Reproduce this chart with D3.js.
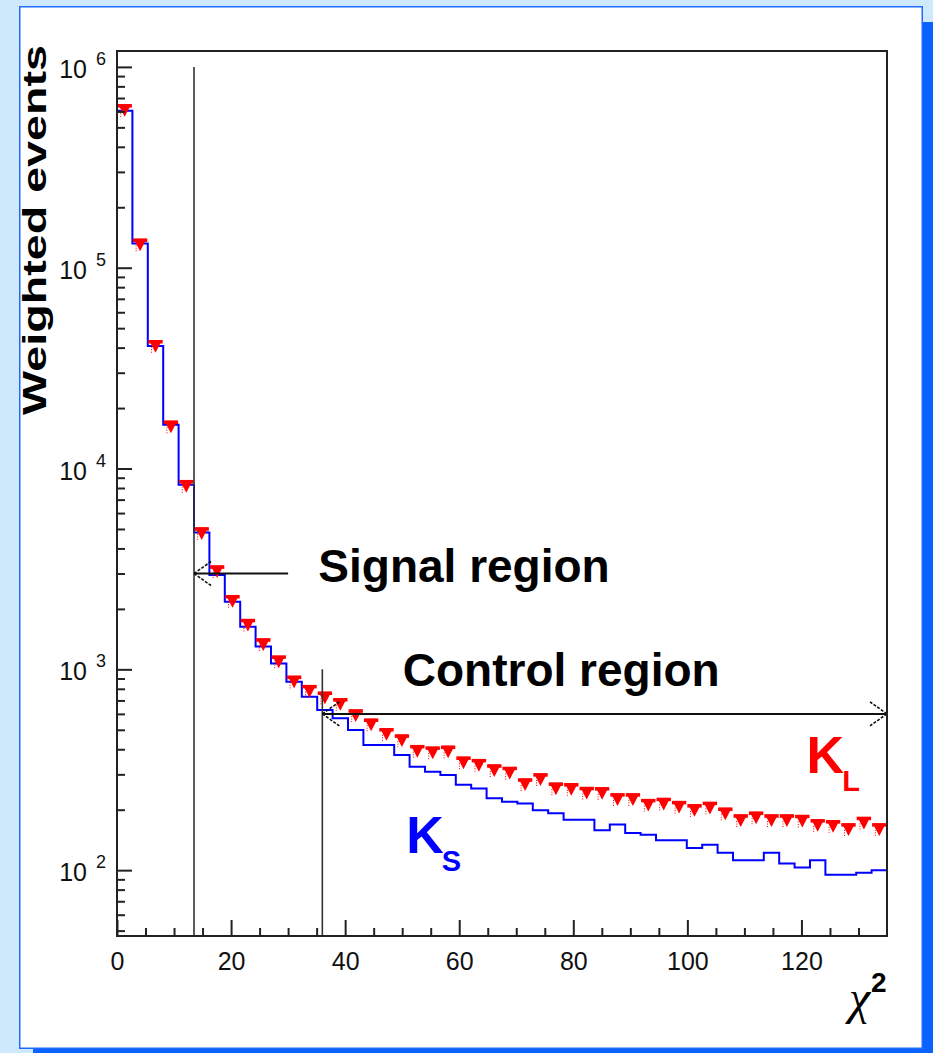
<!DOCTYPE html>
<html><head><meta charset="utf-8">
<script src="https://cdn.jsdelivr.net/npm/d3@7"></script>
<style>html,body{margin:0;padding:0;background:#cde9fb;} svg{display:block;}</style>
</head><body>
<svg id="c" width="933" height="1053"></svg>
<script>
// ---- data ----
const xRange = [0, 135];
const nBins = 50;
const yRange = [47, 1.2e6];
const ksValues = [605000,132000,40700,16500,8300,4800,2950,2170,1630,1300,
  1070,867,731,627,570,499,420,420,374,327,
  309,298,266,255,228,219,215,199,192,178,
  178,158,169,153,150,141,141,129,134,122,
  112,112,122,108,103,112,95,95,97,100];
const klValues = [640000,137000,42800,17000,8600,5000,3230,2300,1750,1400,
  1150,912,820,760,705,620,558,500,465,412,
  405,409,361,351,330,321,281,298,268,266,
  255,254,237,237,222,225,217,209,215,201,
  186,192,186,186,185,176,174,168,181,168];
const xMajorTicks = [0,20,40,60,80,100,120];
const xTickLabels = ["0","20","40","60","80","100","120"];
const yExponents = [2,3,4,5,6];
const signalCut = [13.5, 1e6];     // x, top value
const controlCut = [36, 1000];
const signalArrow = [30, 13.5, 3000];  // from x, to x, at value
const controlArrow = [36, 135, 600];
const labels = [
  {t:"Signal region", x:35.3, v:2720},
  {t:"Control region", x:50.1, v:826}
];

// ---- layout ----
const svg = d3.select("#c");
const FONT = "'Liberation Sans', Arial, Helvetica, sans-serif";
svg.append("rect").attr("x",0).attr("y",0).attr("width",933).attr("height",1053).attr("fill","#cde9fb");
svg.append("rect").attr("x",33).attr("y",22).attr("width",900).attr("height",1031).attr("fill","#0a62ff");
svg.append("rect").attr("x",19.75).attr("y",6.75).attr("width",902.5).attr("height",1041.5)
  .attr("fill","#fff").attr("stroke","#1f6bff").attr("stroke-width",1.5);

const L = 117, R = 887, T = 51, B = 936;
const x = d3.scaleLinear().domain(xRange).range([L, R]);
const y = d3.scaleLog().domain(yRange).range([B, T]);
const bw = (xRange[1]-xRange[0]) / nBins;
const lo = i => xRange[0] + i*bw;

// KS histogram
const pts = ksValues.map((v,i)=>[lo(i), v]);
pts.push([xRange[1], ksValues[nBins-1]]);
pts.push([xRange[1], yRange[0]]);
svg.append("path")
  .attr("d", d3.line().x(d=>x(d[0])).y(d=>y(d[1])).curve(d3.curveStepAfter)(pts))
  .attr("fill","none").attr("stroke","#0000ff").attr("stroke-width",2);

// KL markers
const mk = svg.append("g");
klValues.forEach((v,i)=>{
  const x0 = x(lo(i)), x1 = x(lo(i+1)), xc = (x0+x1)/2, yy = y(v);
  mk.append("line").attr("x1",x0+0.5).attr("x2",x1-0.5).attr("y1",yy).attr("y2",yy)
    .attr("stroke","#ff0000").attr("stroke-width",3.5);
  mk.append("path").attr("d",`M${xc-6.5},${yy-1.5}L${xc+6.5},${yy-1.5}L${xc},${yy+11}Z`).attr("fill","#ff0000");
  mk.append("line").attr("x1",xc-4).attr("x2",xc-4).attr("y1",yy+5).attr("y2",yy+11)
    .attr("stroke","#ff0000").attr("stroke-width",1).attr("stroke-dasharray","1,1.5");
});

// region lines
[signalCut, controlCut].forEach(c=>{
  svg.append("line").attr("x1",x(c[0])).attr("x2",x(c[0])).attr("y1",y(c[1])).attr("y2",B)
    .attr("stroke","#333").attr("stroke-width",1.6);
});

// arrows
function head(tipX, tipY, dir){
  const g = svg.append("g").attr("stroke","#111").attr("stroke-width",1.6).attr("stroke-dasharray","3,1.5");
  g.append("line").attr("x1",tipX).attr("y1",tipY).attr("x2",tipX+dir*17).attr("y2",tipY-12);
  g.append("line").attr("x1",tipX).attr("y1",tipY).attr("x2",tipX+dir*17).attr("y2",tipY+12);
}
svg.append("line").attr("x1",x(signalArrow[0])).attr("x2",x(signalArrow[1]))
  .attr("y1",y(signalArrow[2])).attr("y2",y(signalArrow[2])).attr("stroke","#111").attr("stroke-width",2);
head(x(signalArrow[1]), y(signalArrow[2]), 1);
svg.append("line").attr("x1",x(controlArrow[0])).attr("x2",x(controlArrow[1]))
  .attr("y1",y(controlArrow[2])).attr("y2",y(controlArrow[2])).attr("stroke","#111").attr("stroke-width",2);
head(x(controlArrow[0]), y(controlArrow[2]), 1);
head(x(controlArrow[1]), y(controlArrow[2]), -1);

// axes
const xMinor = d3.range(xRange[0], xRange[1], 5).filter(v=>!xMajorTicks.includes(v));
const gxm = svg.append("g").attr("transform",`translate(0,${B})`)
  .call(d3.axisBottom(x).tickValues(xMinor).tickSize(-8).tickFormat(""));
const gx = svg.append("g").attr("transform",`translate(0,${B})`)
  .call(d3.axisBottom(x).tickValues(xMajorTicks).tickSize(-16).tickPadding(16)
    .tickFormat((d,i)=>xTickLabels[i]));
const yMinor = [];
for (let e=1; e<=6; e++) for (let m=2; m<=9; m++){ const v=m*Math.pow(10,e); if(v>=yRange[0]&&v<=yRange[1]) yMinor.push(v); }
const gym = svg.append("g").attr("transform",`translate(${L},0)`)
  .call(d3.axisLeft(y).tickValues(yMinor).tickSize(-8).tickFormat(""));
const gy = svg.append("g").attr("transform",`translate(${L},0)`)
  .call(d3.axisLeft(y).tickValues(yExponents.map(e=>Math.pow(10,e))).tickSize(-15).tickFormat(""));
[gxm,gx,gym,gy].forEach(g=>{
  g.select(".domain").remove();
  g.selectAll(".tick line").attr("stroke","#222").attr("stroke-width",2);
});
gx.selectAll(".tick text").attr("font-family",FONT).attr("font-size",25).attr("fill","#111");

svg.append("rect").attr("x",L).attr("y",T).attr("width",R-L).attr("height",B-T)
  .attr("fill","none").attr("stroke","#222").attr("stroke-width",2);

// y tick labels 10^n
yExponents.forEach(e=>{
  const yy = y(Math.pow(10,e));
  svg.append("text").attr("x",87).attr("y",yy+11).attr("text-anchor","end")
    .attr("font-family",FONT).attr("font-size",25).attr("fill","#111").text("10");
  svg.append("text").attr("x",96).attr("y",yy-2)
    .attr("font-family",FONT).attr("font-size",18).attr("fill","#111").text(String(e));
});

// axis titles
svg.append("text").attr("transform","translate(46,230) rotate(-90)").attr("text-anchor","middle")
  .attr("font-family",FONT).attr("font-weight","bold").attr("font-size",34)
  .attr("textLength",370).attr("lengthAdjust","spacingAndGlyphs").attr("fill","#000")
  .text("Weighted events");
svg.append("text").attr("x",849).attr("y",1014)
  .attr("font-family","'Liberation Serif', 'DejaVu Serif', serif").attr("font-style","italic")
  .attr("font-size",48).attr("fill","#000").text("χ");
svg.append("text").attr("x",871).attr("y",992)
  .attr("font-family",FONT).attr("font-weight","bold").attr("font-size",28).attr("fill","#000").text("2");

// region labels
labels.forEach(l=>{
  svg.append("text").attr("x",x(l.x)).attr("y",y(l.v))
    .attr("font-family",FONT).attr("font-weight","bold").attr("font-size",46).attr("fill","#000").text(l.t);
});

// KL / KS labels
function kLabel(xv, v, sub, color){
  const t = svg.append("text").attr("x",x(xv)).attr("y",y(v))
    .attr("font-family",FONT).attr("font-weight","bold").attr("fill",color);
  t.append("tspan").attr("font-size",52).text("K");
  t.append("tspan").attr("font-size",29).attr("dy",18).attr("dx",-2).text(sub);
}
kLabel(120.9, 305, "L", "#ff0000");
kLabel(50.7, 121.7, "S", "#0000ff");
</script>
</body></html>
